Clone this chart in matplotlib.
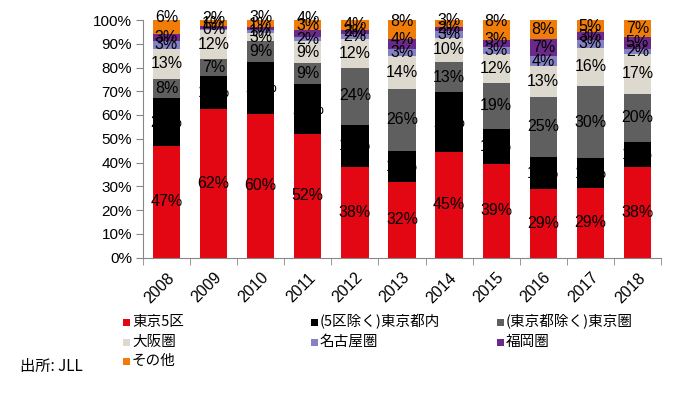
import matplotlib
matplotlib.use("Agg")
import matplotlib.pyplot as plt
from matplotlib.patches import Rectangle
import numpy as np

plt.rcParams['font.family'] = ['Liberation Sans', 'Noto Sans CJK JP', 'DejaVu Sans']

years = ["2008", "2009", "2010", "2011", "2012", "2013", "2014", "2015", "2016", "2017", "2018"]
series_names = ["東京5区", "(5区除く)東京都内", "(東京都除く)東京圏", "大阪圏", "名古屋圏", "福岡圏", "その他"]

tokyo5 = [47.0, 62.4, 60.3, 52.0, 38.0, 32.0, 44.6, 39.4, 28.7, 29.2, 38.0]
tokyo_other = [20.0, 14.0, 22.2, 21.0, 18.0, 13.0, 24.9, 14.8, 13.7, 12.7, 10.8]
tokyo_area = [8.0, 7.0, 8.6, 9.0, 24.0, 26.0, 13.0, 19.3, 25.3, 30.2, 20.0]
osaka = [13.0, 12.4, 3.4, 9.0, 12.0, 14.0, 10.0, 12.0, 13.0, 16.3, 17.0]
nagoya = [3.0, 0.4, 1.2, 2.0, 2.0, 3.0, 3.0, 3.0, 4.0, 3.2, 2.2]
fukuoka = [3.0, 1.4, 1.3, 3.0, 2.0, 4.0, 1.5, 3.0, 7.3, 3.3, 5.0]
others = [6.0, 2.4, 3.0, 4.0, 4.0, 8.0, 3.0, 8.5, 8.0, 5.1, 7.0]

series = [tokyo5, tokyo_other, tokyo_area, osaka, nagoya, fukuoka, others]
colors = ["#E30613", "#000000", "#5F5F5F", "#DDD9CF", "#8482C4", "#6B2A8A", "#F07D0A"]

# label nudges (style only, in percentage points)
label_nudge = {
    (0, 6): 4.0, (1, 6): 1.9, (2, 6): 2.5, (3, 6): 2.7, (5, 6): 3.5, (6, 6): 1.3, (7, 6): 3.8,
    (1, 5): 1.7, (2, 5): 1.8, (3, 5): 3.0, (5, 5): 2.0, (7, 5): 1.6,
}

fig = plt.figure(figsize=(6.79, 3.95), dpi=100)
ax = fig.add_axes([143/679, 1-257.5/395, (661-143)/679, (257.5-20)/395])

x = np.arange(len(years))
bottom = np.zeros(len(years))
for si, (vals, c) in enumerate(zip(series, colors)):
    vals = np.array(vals)
    ax.bar(x, vals, bottom=bottom, width=0.58, color=c, edgecolor='none', zorder=2)
    for i, v in enumerate(vals):
        yc = bottom[i] + v / 2 + label_nudge.get((i, si), 0)
        ax.text(x[i], yc, f"{int(round(v))}%", ha='center', va='center',
                fontsize=11.5, color='#000000', zorder=3, clip_on=False)
    bottom += vals

ax.set_xlim(-0.5, len(years) - 0.5)
ax.set_ylim(0, 100)
ax.set_yticks(np.arange(0, 101, 10))
ax.set_yticklabels([f"{t}%" for t in range(0, 101, 10)], fontsize=11)
ax.set_xticks(x)
ax.set_xticklabels(years, rotation=45, ha='right', rotation_mode='anchor', fontsize=11.5)
ax.set_xticks(np.arange(-0.5, len(years), 1), minor=True)
ax.tick_params(axis='x', which='major', length=0, pad=9)
ax.tick_params(axis='x', which='minor', length=5, color='#888888', direction='out')
ax.tick_params(axis='y', length=5, color='#888888', direction='out', pad=3)
for s in ['top', 'right']:
    ax.spines[s].set_visible(False)
for s in ['left', 'bottom']:
    ax.spines[s].set_color('#888888')
    ax.spines[s].set_linewidth(0.8)

# legend (row-major like the original)
col_x = [123, 311, 497]
row_y = [322, 342, 361]
for k, (name, c) in enumerate(zip(series_names, colors)):
    r, col = divmod(k, 3)
    px, py = col_x[col], row_y[r]
    fig.add_artist(Rectangle((px/679, 1-(py+3.5)/395), 7/679, 7/395,
                             transform=fig.transFigure, facecolor=c, edgecolor='none'))
    fig.text((px+9)/679, 1-py/395, name, ha='left', va='center', fontsize=10.5,
             family=['Noto Sans CJK JP', 'Liberation Sans'])

fig.text(20/679, 1-366/395, "出所: JLL", ha='left', va='center', fontsize=11,
         family=['Noto Sans CJK JP', 'Liberation Sans'])

fig.savefig("out.png", dpi=100, facecolor='white')
